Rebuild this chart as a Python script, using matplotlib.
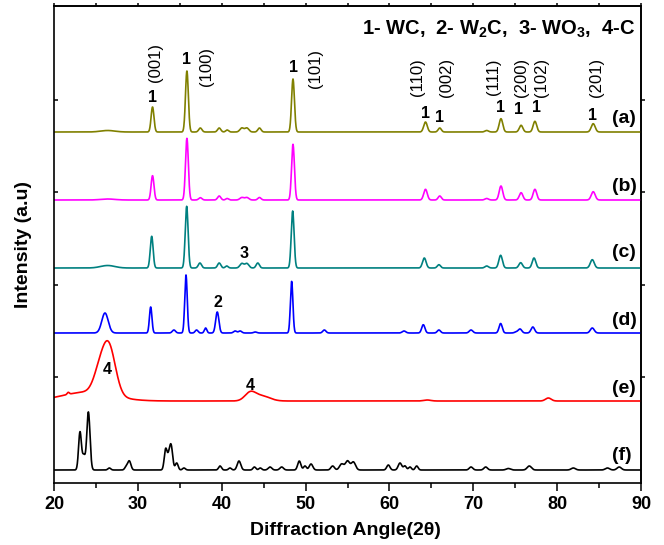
import numpy as np
import matplotlib
matplotlib.use("Agg")
import matplotlib.pyplot as plt

plt.rcParams['font.family'] = ['Liberation Sans', 'DejaVu Sans']
plt.rcParams['mathtext.fontset'] = 'custom'
plt.rcParams['mathtext.rm'] = 'Liberation Sans:bold'
plt.rcParams['mathtext.it'] = 'Liberation Sans:bold'
plt.rcParams['mathtext.bf'] = 'Liberation Sans:bold'

# peaks: centre (2theta), height, FWHM (deg)
samples = ["(a)", "(b)", "(c)", "(d)", "(e)", "(f)"]
colors = ["#808000", "#ff00ff", "#008080", "#0000ff", "#ff0000", "#000000"]
baselines = [351, 283, 215, 150, 82, 13]

a_pos = [26.4, 31.75, 35.85, 37.45, 39.7, 40.65, 42.4, 43.0, 44.5, 48.5, 64.3, 66.0, 71.6, 73.3, 75.7, 77.35, 84.3]
a_h = [1.5, 25, 61, 4, 4, 2, 4, 4, 4, 53, 10, 4, 1.5, 13.3, 6.7, 10.7, 8.3]
a_w = [2.0, 0.4, 0.4, 0.45, 0.45, 0.4, 0.55, 0.55, 0.45, 0.4, 0.5, 0.45, 0.5, 0.5, 0.5, 0.5, 0.55]

b_pos = [26.4, 31.75, 35.85, 37.45, 39.7, 40.65, 42.4, 43.0, 44.5, 48.5, 64.3, 66.0, 71.6, 73.3, 75.7, 77.35, 84.3]
b_h = [1.0, 24.3, 61.7, 2.3, 4, 1.5, 2.5, 2.5, 2.5, 55.7, 10.7, 4, 1.5, 14, 7.3, 10.7, 8.3]
b_w = [2.0, 0.4, 0.4, 0.45, 0.45, 0.4, 0.55, 0.55, 0.45, 0.4, 0.5, 0.45, 0.5, 0.5, 0.5, 0.5, 0.55]

c_pos = [26.4, 31.65, 35.82, 37.4, 39.7, 40.6, 42.4, 43.0, 44.3, 48.46, 64.16, 65.9, 71.6, 73.26, 75.65, 77.24, 84.19]
c_h = [2.5, 31.7, 61.7, 5, 5, 2, 4.5, 4.5, 5, 57, 10, 3.3, 2, 12.7, 5.3, 10, 8.3]
c_w = [2.0, 0.4, 0.4, 0.45, 0.45, 0.4, 0.55, 0.55, 0.45, 0.4, 0.5, 0.45, 0.5, 0.5, 0.5, 0.5, 0.55]

d_pos = [26.08, 31.53, 34.3, 35.74, 37.0, 38.08, 39.47, 41.6, 42.2, 44.0, 48.34, 52.24, 61.74, 64.04, 65.9, 69.73, 73.26, 75.1, 75.57, 77.1, 84.19]
d_h = [20, 26, 3, 58, 3, 5, 21, 2, 2, 1, 51.6, 3, 2, 8.3, 3, 3, 9.5, 1, 4, 6, 5]
d_w = [0.9, 0.35, 0.45, 0.35, 0.4, 0.35, 0.45, 0.45, 0.45, 0.45, 0.35, 0.45, 0.5, 0.45, 0.45, 0.5, 0.45, 0.45, 0.5, 0.5, 0.55]

e_pos = [24.0, 21.7, 25.3, 26.5, 43.4, 44.8, 64.5, 78.95]
e_h = [9, 2, 15, 50, 8, 5, 1, 3]
e_w = [7.0, 0.3, 1.6, 1.9, 1.5, 2.2, 1.0, 0.8]

f_pos = [23.1, 23.55, 24.1, 26.6, 28.6, 28.98, 33.32, 33.65, 33.95, 34.63, 35.5, 39.8, 40.99, 42.06, 43.9, 44.6, 45.76,
         47.15, 49.25, 49.93, 50.65, 53.23, 54.3, 55.0, 55.7, 59.87, 61.26, 61.85, 62.45, 63.25,
         69.73, 71.48, 74.18, 76.68, 81.93, 86.0, 87.4]
f_h = [38, 14, 58, 2, 3, 9, 21, 8, 25, 7, 2, 4, 2, 9, 3, 2, 3,
       3, 9, 4, 6, 4, 6, 9, 8, 5, 7, 4, 3, 4,
       3, 3, 1.5, 4, 2, 2, 3]
f_w = [0.4, 0.4, 0.45, 0.4, 0.4, 0.45, 0.4, 0.35, 0.45, 0.4, 0.4, 0.4, 0.4, 0.5, 0.4, 0.4, 0.5,
       0.5, 0.45, 0.4, 0.5, 0.5, 0.6, 0.6, 0.6, 0.45, 0.5, 0.4, 0.4, 0.4,
       0.5, 0.5, 0.6, 0.6, 0.6, 0.6, 0.6]

peak_tables = [(a_pos, a_h, a_w), (b_pos, b_h, b_w), (c_pos, c_h, c_w),
               (d_pos, d_h, d_w), (e_pos, e_h, e_w), (f_pos, f_h, f_w)]

# reflection indices and phase labels
hkl = ["(001)", "(100)", "(101)", "(110)", "(002)", "(111)", "(200)", "(102)", "(201)"]
hkl_x = [32.16, 38.24, 51.24, 63.4, 66.86, 72.47, 75.69, 78.19, 84.75]
hkl_y = [420, 417, 414, 406, 406, 406, 406, 406, 406]
wc_x = [31.7, 35.86, 48.6, 64.36, 66.03, 73.3, 75.4, 77.5, 84.27]
wc_y = [386, 423, 415, 370, 366, 375, 373, 375, 368]
label_x = [87.97, 87.97, 87.97, 87.97, 87.97, 87.7]
label_y = [364.7, 296.3, 230.3, 162.3, 94.7, 28]

x = np.linspace(20, 90, 3501)


def profile(pos, h, w):
    y = np.zeros_like(x)
    for p, hh, ww in zip(pos, h, w):
        y += hh * np.exp(-4 * np.log(2) * ((x - p) / ww) ** 2)
    return y


fig = plt.figure(figsize=(6.64, 5.45), dpi=100)
ax = fig.add_axes([54 / 664, 1 - 483 / 545, 587 / 664, 477 / 545])

for (pos, h, w), base, col in zip(peak_tables, baselines, colors):
    ax.plot(x, base + profile(pos, h, w), color=col, lw=1.2)

for s, lx, ly in zip(samples, label_x, label_y):
    ax.text(lx, ly, s, fontsize=14, fontweight='bold', ha='center', va='center')

for t, hx, hy in zip(hkl, hkl_x, hkl_y):
    ax.text(hx, hy, t, fontsize=12, rotation=90, ha='center', va='center')

for wx, wy in zip(wc_x, wc_y):
    ax.text(wx, wy, "1", fontsize=11.5, fontweight='bold', ha='center', va='center')

ax.text(42.66, 230, "3", fontsize=11.5, fontweight='bold', ha='center', va='center')
ax.text(39.6, 180.3, "2", fontsize=11.5, fontweight='bold', ha='center', va='center')
ax.text(26.4, 113.7, "4", fontsize=11.5, fontweight='bold', ha='center', va='center')
ax.text(43.45, 98, "4", fontsize=11.5, fontweight='bold', ha='center', va='center')

ax.text(89.4, 448.7, r"1- WC,  2- W$_2$C,  3- WO$_3$,  4-C", fontsize=14.5,
        fontweight='bold', ha='right', va='baseline')

ax.set_xlim(20, 90)
ax.set_ylim(0, 477)
ax.set_xticks(range(20, 91, 10))
ax.set_xticks(range(25, 90, 10), minor=True)
ax.set_yticks([106, 198.5, 291, 383])
ax.set_yticklabels([])
ax.tick_params(axis='x', which='major', direction='out', length=6, width=1.1, labelsize=13)
ax.tick_params(axis='x', which='minor', direction='out', length=3.5, width=1.1)
ax.tick_params(axis='y', direction='in', length=3, width=1.1)
for lab in ax.get_xticklabels():
    lab.set_fontweight('bold')

top = ax.secondary_xaxis('top')
top.set_xticks(range(20, 91, 5))
top.set_xticklabels([])
top.tick_params(direction='out', length=2, width=1.1)
right = ax.secondary_yaxis('right')
right.set_yticks([106, 198.5, 291, 383])
right.set_yticklabels([])
right.tick_params(direction='out', length=3, width=1.1)

for sp in ax.spines.values():
    sp.set_linewidth(1.2)
top.spines['top'].set_linewidth(1.2)
right.spines['right'].set_linewidth(1.2)

ax.set_xlabel(u"Diffraction Angle(2\u03b8)", fontsize=14, fontweight='bold')
ax.xaxis.set_label_coords(0.496, -0.082)
ax.set_ylabel("Intensity (a.u)", fontsize=14, fontweight='bold')
ax.yaxis.set_label_coords(-0.037, 0.5)

fig.savefig("out.png", dpi=100)
